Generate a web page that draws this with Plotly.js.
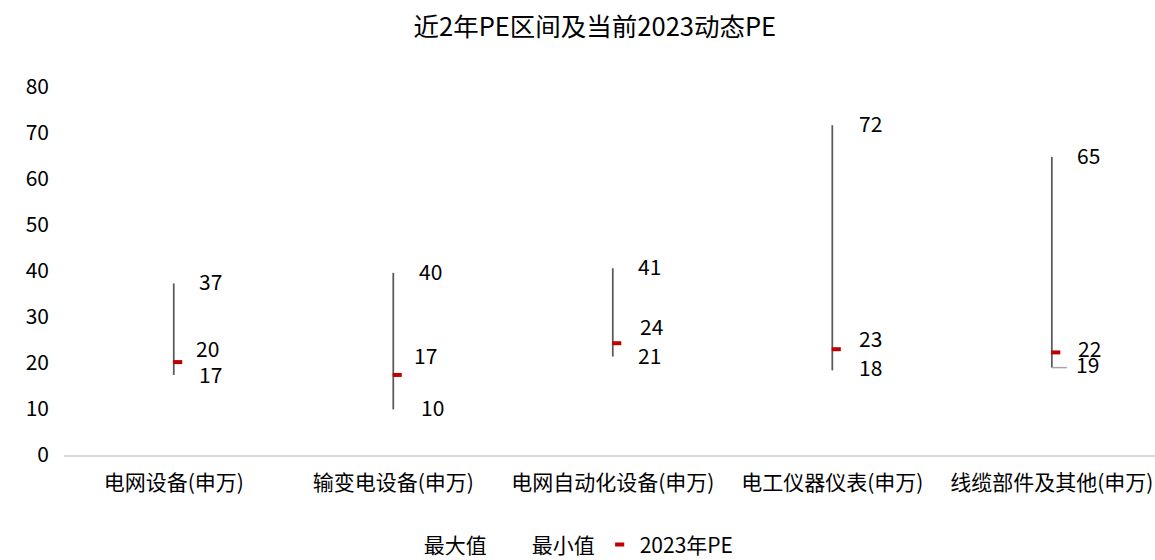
<!DOCTYPE html>
<html>
<head>
<meta charset="utf-8">
<script src="https://cdn.plot.ly/plotly-3.0.1.min.js"></script>
<style>html,body{margin:0;padding:0;background:#fff;}#chart{width:1155px;height:560px;}</style>
</head>
<body>
<div id="chart"></div>
<script>
// ---- data ----
const categories = ['电网设备(申万)', '输变电设备(申万)', '电网自动化设备(申万)', '电工仪器仪表(申万)', '线缆部件及其他(申万)'];
const maxPE = [37.3, 39.6, 40.6, 71.7, 64.8];
const minPE = [17.4, 9.9, 21.4, 18.4, 19.0];
const pe2023 = [20.2, 17.4, 24.3, 23.0, 22.3];
const yTicks = [0, 10, 20, 30, 40, 50, 60, 70, 80];

// ---- label placement tweaks (pixels) ----
const maxShift = [[37,2],[37,2],[37,2],[38,2],[37,2]];
const peShift  = [[34,14],[32,20],[39,17],[38,11],[38,4]];
const minShift = [[37,1],[39,2],[37,2],[38,3],[36,4]];

const FONT = '"Noto Sans CJK SC", "Noto Sans", sans-serif';
const idx = categories.map((_, i) => i);

// high-low lines
const hlX = [], hlY = [];
idx.forEach(i => { hlX.push(i, i, null); hlY.push(minPE[i], maxPE[i], null); });

const traces = [
  {x: hlX, y: hlY, mode: 'lines', line: {color: '#595959', width: 1.75}, showlegend: false, hoverinfo: 'skip'},
  {x: idx, y: maxPE, name: '最大值', mode: 'lines', line: {color: 'rgba(0,0,0,0)', width: 0}},
  {x: idx, y: minPE, name: '最小值', mode: 'lines', line: {color: 'rgba(0,0,0,0)', width: 0}},
  {x: idx.map(i => i + 0.018), y: pe2023, name: '2023年PE', mode: 'markers',
   marker: {symbol: 'line-ew', size: 6.5, color: '#c00000', line: {color: '#c00000', width: 4}}}
];

const annotations = [];
function addLabels(vals, shifts) {
  vals.forEach((v, i) => {
    annotations.push({x: i, y: v, xref: 'x', yref: 'y', text: String(Math.round(v)), showarrow: false,
      xshift: shifts[i][0], yshift: shifts[i][1], font: {family: FONT, size: 21, color: '#000'}});
  });
}
addLabels(maxPE, maxShift);
addLabels(pe2023, peShift);
addLabels(minPE, minShift);

const shapes = [{type: 'line', xref: 'x', yref: 'y', xsizemode: 'pixel', xanchor: 4, x0: 0, x1: 15,
  y0: minPE[4], y1: minPE[4], line: {color: '#a6a6a6', width: 1.5}}];

const layout = {
  width: 1155, height: 560,
  margin: {l: 64, r: 0, t: 87, b: 105, autoexpand: false},
  paper_bgcolor: '#fff', plot_bgcolor: '#fff',
  font: {family: FONT, size: 21, color: '#000'},
  title: {text: '近2年PE区间及当前2023动态PE', font: {family: FONT, size: 25.5, color: '#000'},
          x: 0.515, xanchor: 'center', y: 0.952, yanchor: 'middle'},
  xaxis: {range: [-0.5, 4.47], tickvals: idx, ticktext: categories, showgrid: false, zeroline: false,
          showline: true, linecolor: '#d9d9d9', linewidth: 1.5, ticks: '', ticklabelstandoff: 8,
          tickfont: {family: FONT, size: 21, color: '#000'}, fixedrange: true},
  yaxis: {range: [0, 80], tickvals: yTicks, showgrid: false, zeroline: false, showline: false, ticks: '',
          ticklabelstandoff: 14, tickfont: {family: FONT, size: 21, color: '#000'}, fixedrange: true},
  legend: {orientation: 'h', x: 0.293, xanchor: 'left', y: -0.244, yanchor: 'middle',
           font: {family: FONT, size: 21, color: '#000'}},
  annotations: annotations,
  shapes: shapes,
  showlegend: true
};

Plotly.newPlot('chart', traces, layout, {displayModeBar: false, staticPlot: true});
</script>
</body>
</html>
